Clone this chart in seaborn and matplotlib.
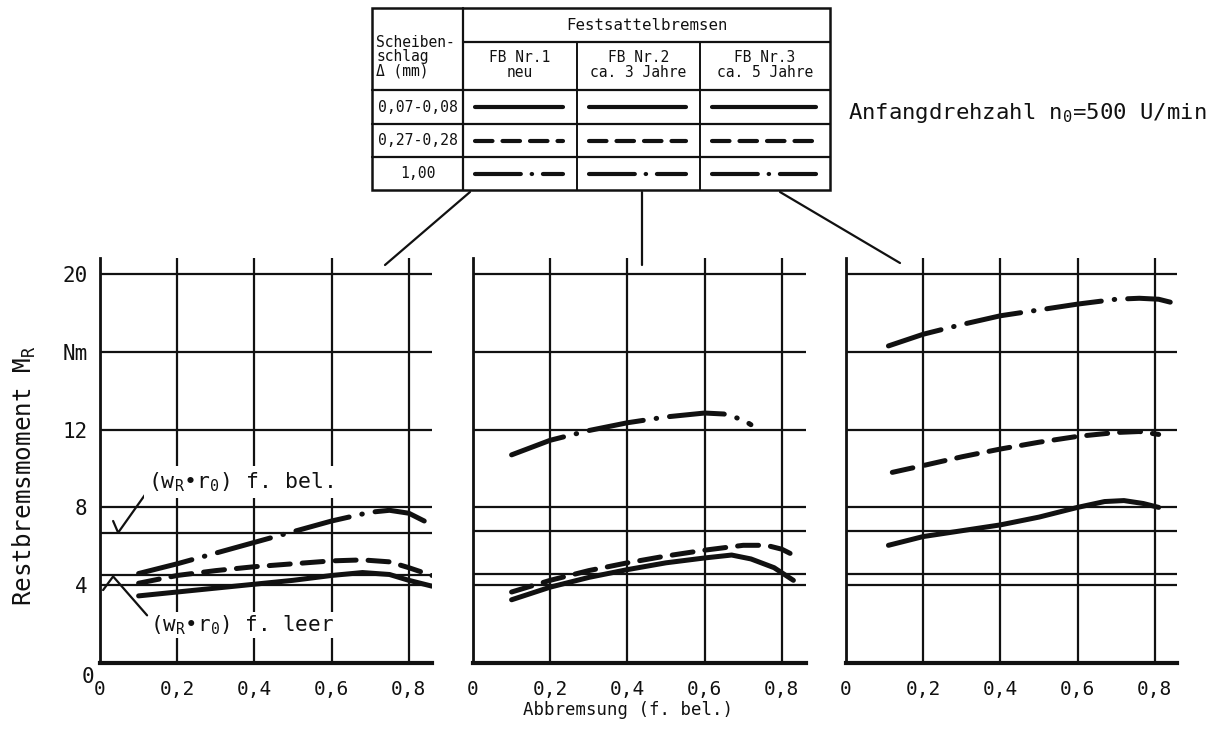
import numpy as np
import pandas as pd
import seaborn as sns
import matplotlib.pyplot as plt

# ---- measured curves: residual brake torque M_R (Nm) over braking ratio ----
# Disc run-out classes
runout_labels = ["0,07-0,08", "0,27-0,28", "1,00"]
brake_titles = ["FB Nr.1\nneu", "FB Nr.2\nca. 3 Jahre", "FB Nr.3\nca. 5 Jahre"]

# FB Nr.1 (new)
fb1_x_solid = [0.10, 0.20, 0.30, 0.40, 0.50, 0.60, 0.68, 0.75, 0.80, 0.86]
fb1_y_solid = [3.45, 3.65, 3.85, 4.05, 4.25, 4.50, 4.65, 4.55, 4.25, 3.95]
fb1_x_dash = [0.10, 0.20, 0.30, 0.40, 0.50, 0.60, 0.68, 0.75, 0.80, 0.86]
fb1_y_dash = [4.10, 4.50, 4.75, 4.95, 5.10, 5.25, 5.30, 5.20, 4.90, 4.50]
fb1_x_dashdot = [0.10, 0.20, 0.30, 0.40, 0.50, 0.60, 0.70, 0.75, 0.80, 0.84]
fb1_y_dashdot = [4.60, 5.10, 5.65, 6.20, 6.75, 7.30, 7.75, 7.85, 7.70, 7.30]

# FB Nr.2 (approx. 3 years)
fb2_x_solid = [0.10, 0.20, 0.30, 0.40, 0.50, 0.60, 0.67, 0.72, 0.78, 0.83]
fb2_y_solid = [3.25, 3.90, 4.40, 4.80, 5.15, 5.40, 5.55, 5.35, 4.90, 4.25]
fb2_x_dash = [0.10, 0.20, 0.30, 0.40, 0.50, 0.60, 0.70, 0.76, 0.80, 0.84]
fb2_y_dash = [3.65, 4.25, 4.75, 5.15, 5.50, 5.80, 6.05, 6.05, 5.85, 5.45]
fb2_x_dashdot = [0.10, 0.20, 0.30, 0.40, 0.50, 0.60, 0.65, 0.70, 0.72]
fb2_y_dashdot = [10.70, 11.45, 11.95, 12.35, 12.65, 12.85, 12.80, 12.50, 12.25]

# FB Nr.3 (approx. 5 years)
fb3_x_solid = [0.11, 0.20, 0.30, 0.40, 0.50, 0.60, 0.67, 0.72, 0.77, 0.81]
fb3_y_solid = [6.05, 6.50, 6.80, 7.10, 7.50, 8.00, 8.30, 8.35, 8.20, 8.00]
fb3_x_dash = [0.12, 0.20, 0.30, 0.40, 0.50, 0.60, 0.70, 0.76, 0.81]
fb3_y_dash = [9.80, 10.15, 10.60, 11.00, 11.35, 11.65, 11.85, 11.90, 11.75]
fb3_x_dashdot = [0.11, 0.20, 0.30, 0.40, 0.50, 0.60, 0.70, 0.76, 0.81, 0.84]
fb3_y_dashdot = [16.30, 16.90, 17.40, 17.85, 18.15, 18.45, 18.70, 18.75, 18.70, 18.55]

# (w_R * r_0) reference levels: loaded / empty, per brake
ref_bel = [6.7, 6.8, 6.8]
ref_leer = [4.5, 4.6, 4.6]

y_ticks = [0, 4, 8, 12, 16, 20]
y_ticklabels = ["", "4", "8", "12", "Nm", "20"]
x_ticks = [0, 0.2, 0.4, 0.6, 0.8]
x_ticklabels = ["0", "0,2", "0,4", "0,6", "0,8"]

panels = [
    [(fb1_x_solid, fb1_y_solid), (fb1_x_dash, fb1_y_dash), (fb1_x_dashdot, fb1_y_dashdot)],
    [(fb2_x_solid, fb2_y_solid), (fb2_x_dash, fb2_y_dash), (fb2_x_dashdot, fb2_y_dashdot)],
    [(fb3_x_solid, fb3_y_solid), (fb3_x_dash, fb3_y_dash), (fb3_x_dashdot, fb3_y_dashdot)],
]

# ---- styling ----
sns.set_theme(style="white")
plt.rcParams["font.family"] = ["DejaVu Sans Mono", "DejaVu Sans"]
plt.rcParams["mathtext.fontset"] = "custom"
plt.rcParams["mathtext.rm"] = "DejaVu Sans Mono"
plt.rcParams["mathtext.it"] = "DejaVu Sans Mono"
plt.rcParams["mathtext.default"] = "rm"

INK = "#111111"
LINE_STYLES = ["-", (0, (4.2, 2.4)), (0, (11.0, 2.6, 0.1, 2.6))]
CURVE_LW = 3.6

W, H = 1222, 747
fig = plt.figure(figsize=(W / 100, H / 100), dpi=100)
fig.patch.set_facecolor("white")


def px_rect(x0, y0, x1, y1):
    return [x0 / W, 1 - y1 / H, (x1 - x0) / W, (y1 - y0) / H]


panel_px = [(100, 432), (473, 806), (846, 1177)]
y_top = 20.82
px_per_x = 386.0

axes = []
for i, (x0, x1) in enumerate(panel_px):
    ax = fig.add_axes(px_rect(x0, 258, x1, 663))
    ax.set_facecolor("white")
    ax.set_xlim(0, (x1 - x0) / px_per_x)
    ax.set_ylim(0, y_top)
    ax.set_xticks(x_ticks)
    ax.set_yticks(y_ticks)
    ax.grid(True, color=INK, lw=1.6)
    for side in ("top", "right"):
        ax.spines[side].set_visible(False)
    ax.spines["left"].set_color(INK)
    ax.spines["left"].set_linewidth(2.0)
    ax.spines["bottom"].set_color(INK)
    ax.spines["bottom"].set_linewidth(3.0)
    ax.tick_params(length=0, labelsize=14, colors=INK)
    ax.tick_params(axis="x", pad=12)
    ax.tick_params(axis="y", pad=9, labelsize=15)
    ax.set_xticklabels(x_ticklabels)
    if i == 0:
        ax.set_yticklabels(y_ticklabels)
    else:
        ax.set_yticklabels([])

    ax.axhline(ref_bel[i], color=INK, lw=1.6)
    ax.axhline(ref_leer[i], color=INK, lw=1.6)

    for (xs, ys), ls in zip(panels[i], LINE_STYLES):
        sns.lineplot(x=xs, y=ys, ax=ax, color=INK, lw=CURVE_LW, linestyle=ls,
                     sort=False, estimator=None, solid_capstyle="round",
                     dash_capstyle="round")
    axes.append(ax)

# zero of the torque axis, set just below the corner
fig.text(88 / W, 1 - 677 / H, "0", fontsize=15, color=INK, ha="center", va="center")

# annotations in the first panel
ax0 = axes[0]
ax0.text(0.125, 9.3, "(w$_R$•r$_0$) f. bel.", fontsize=15.5, color=INK, va="center",
         bbox=dict(facecolor="white", edgecolor="none", pad=3))
ax0.plot([0.034, 0.047, 0.122], [7.3, 6.7, 8.8], color=INK, lw=1.6)
ax0.text(0.13, 1.95, "(w$_R$•r$_0$) f. leer", fontsize=15, color=INK, va="center",
         bbox=dict(facecolor="white", edgecolor="none", pad=1))
ax0.plot([0.008, 0.034, 0.122], [3.75, 4.45, 2.45], color=INK, lw=1.6)

fig.text(24 / W, 1 - 476 / H, "Restbremsmoment M$_R$", fontsize=17.5, color=INK,
         rotation=90, ha="center", va="center")
fig.text(628 / W, 1 - 710 / H, "Abbremsung (f. bel.)", fontsize=12.5, color=INK,
         ha="center", va="center")

# ---- overlay: legend table, connectors, note ----
ov = fig.add_axes([0, 0, 1, 1], zorder=5)
ov.set_xlim(0, W)
ov.set_ylim(H, 0)
ov.axis("off")
ov.patch.set_alpha(0)

tx = [372, 463, 577, 700, 830]
ty = [8, 42, 90, 124, 157, 190]
ov.add_patch(plt.Rectangle((tx[0], ty[0]), tx[-1] - tx[0], ty[-1] - ty[0],
                           facecolor="white", edgecolor=INK, lw=1.8))
ov.plot([tx[1], tx[-1]], [ty[1], ty[1]], color=INK, lw=1.6)
for yy in ty[2:5]:
    ov.plot([tx[0], tx[-1]], [yy, yy], color=INK, lw=1.6)
ov.plot([tx[1], tx[1]], [ty[0], ty[-1]], color=INK, lw=1.6)
for xx in tx[2:4]:
    ov.plot([xx, xx], [ty[1], ty[-1]], color=INK, lw=1.4)

ov.text((tx[1] + tx[-1]) / 2, (ty[0] + ty[1]) / 2, "Festsattelbremsen",
        fontsize=11.3, ha="center", va="center", color=INK)
ov.text(tx[0] + 4, 57, "Scheiben-\nschlag\nΔ (mm)",
        fontsize=10.5, ha="left", va="center", color=INK, linespacing=0.95)
for j, title in enumerate(brake_titles):
    ov.text((tx[j + 1] + tx[j + 2]) / 2, (ty[1] + ty[2]) / 2 - 1, title,
            fontsize=10.5, ha="center", va="center", color=INK, linespacing=0.95)
for r, lab in enumerate(runout_labels):
    yc = (ty[r + 2] + ty[r + 3]) / 2
    ov.text((tx[0] + tx[1]) / 2, yc, lab, fontsize=10.6, ha="center", va="center",
            color=INK)
    for j in range(3):
        ov.plot([tx[j + 1] + 12, tx[j + 2] - 14], [yc, yc], color=INK, lw=3.0,
                linestyle=LINE_STYLES[r], solid_capstyle="round",
                dash_capstyle="round")

# connectors from the table to each panel
ov.plot([470, 385], [192, 265], color=INK, lw=1.6)
ov.plot([642, 642], [192, 265], color=INK, lw=1.6)
ov.plot([780, 900], [192, 263], color=INK, lw=1.6)

ov.text(848, 113, "Anfangdrehzahl n$_0$=500 U/min", fontsize=16, ha="left",
        va="center", color=INK)

fig.savefig("out.png", dpi=100, facecolor="white")
